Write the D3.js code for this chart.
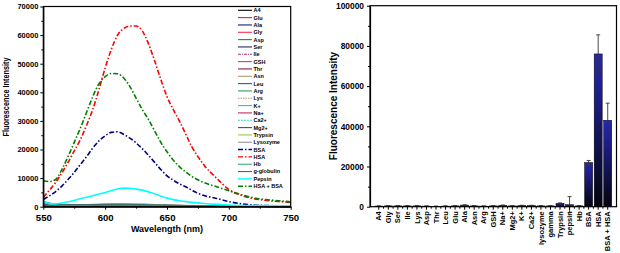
<!DOCTYPE html>
<html>
<head>
<meta charset="utf-8">
<script src="https://cdn.jsdelivr.net/npm/d3@7"></script>
<style>
  body { margin: 0; background: #fff; }
  svg { display: block; font-family: "Liberation Sans", Arial, sans-serif; font-weight: bold; }
</style>
</head>
<body>
<svg id="fig" width="620" height="253"></svg>
<script>
// ---- spectra (left panel) ----
const wl = [550,555,560,565,570,575,580,585,590,595,600,605,610,615,620,625,630,635,640,645,650,655,660,665,670,675,680,690,700,710,720,730,740,750];
const hsa = [3300,5800,8500,11800,15500,19500,23500,28500,34000,41000,48500,55000,60000,62300,63200,63200,61500,57000,51000,44500,38500,34000,30000,25500,21000,17500,14500,10000,6000,4000,2800,2200,1800,1500];
const bsa = [2500,3800,5300,7200,9500,12000,14800,17500,20500,23000,24800,26000,26200,25300,24000,22300,20300,18000,15500,13000,10800,9300,8000,7000,5800,4700,3900,2900,1800,1000,600,400,300,200];
const hsaBsa = [9000,8800,9500,13000,17500,22500,27500,33000,38500,43000,45500,46600,46500,45000,42000,38000,34000,30500,26500,22500,19200,16300,14000,12200,10600,9400,8400,7000,5600,4200,3100,2500,2100,1700];

const wlPepsin = [550,553,558,565,570,575,580,590,600,610,615,620,630,640,650,660,670,680,690,700,720,750];
const pepsin = [2000,1300,1000,1300,1700,2200,2800,3800,5000,6200,6500,6400,5800,4500,3000,2100,1500,1100,800,600,400,300];

// weak responders, sampled coarser
const wlLow = [550,560,575,600,615,630,650,675,700,750];
const lowA4 = [600,300,250,350,400,350,250,150,100,50];
const lowGlu = [800,400,350,500,550,480,350,200,130,60];
const lowAla = [700,350,300,450,500,450,320,180,120,60];
const lowGly = [900,450,400,550,600,520,380,220,140,70];
const lowAsp = [800,400,350,500,550,500,350,200,130,60];
const lowSer = [1000,500,400,550,600,520,380,220,150,70];
const lowIle = [900,450,400,600,650,560,400,230,150,70];
const lowGSH = [1000,500,450,700,800,700,480,260,160,80];
const lowThr = [700,350,300,500,550,480,340,200,120,60];
const lowAsn = [800,400,350,550,600,520,370,210,130,60];
const lowLeu = [900,450,380,550,600,520,380,220,140,70];
const lowArg = [1100,550,450,650,700,600,420,240,150,70];
const lowLys = [1000,550,500,800,950,820,560,300,180,80];
const lowK = [1200,600,450,600,650,560,400,230,150,70];
const lowNa = [1000,500,420,600,650,560,400,230,150,70];
const lowCa = [1300,650,480,620,680,580,410,240,150,70];
const lowMg = [1100,550,450,600,650,560,400,230,150,70];
const lowTrypsin = [1500,800,650,850,950,820,560,300,180,80];
const lowLysozyme = [1400,750,650,900,1000,880,600,320,190,80];
const lowHb = [1600,800,600,700,750,650,460,260,160,70];
const lowGlob = [1800,900,700,800,850,740,520,290,170,80];

const xTicksL = [550,600,650,700,750];
const yTicksL = [0,10000,20000,30000,40000,50000,60000,70000];

// ---- bars (right panel) ----
const barCats = ["A4","Gly","Ser","Ile","Lys","Asp","Thr","Leu","Glu","Ala","Asn","Arg","GSH","Na+","Mg2+","K+","Ca2+","lysozyme","gamma","Trypsin","pepsin","Hb","BSA","HSA","BSA + HSA"];
const barVals = [300,400,400,400,400,300,200,300,400,800,400,300,400,700,400,600,600,400,400,1700,1000,400,22000,76000,43000];
const barErr = [100,100,100,100,100,100,100,100,100,150,100,100,100,150,100,100,100,100,100,200,4000,100,1000,9500,8500];
const yTicksR = [0,20000,40000,60000,80000,100000];

const dashDot = "5,2,1.5,2";
// legend order and style of every spectrum
const series = [
  { name: "A4", x: wlLow, y: lowA4, color: "#000000" },
  { name: "Glu", x: wlLow, y: lowGlu, color: "#ff1a1a" },
  { name: "Ala", x: wlLow, y: lowAla, color: "#1a1a78" },
  { name: "Gly", x: wlLow, y: lowGly, color: "#ff2a4a" },
  { name: "Asp", x: wlLow, y: lowAsp, color: "#1e8a2e" },
  { name: "Ser", x: wlLow, y: lowSer, color: "#2a2a5e" },
  { name: "Ile", x: wlLow, y: lowIle, color: "#b0306e", dash: "3,1,1,1" },
  { name: "GSH", x: wlLow, y: lowGSH, color: "#a0508a" },
  { name: "Thr", x: wlLow, y: lowThr, color: "#8a1a4e" },
  { name: "Asn", x: wlLow, y: lowAsn, color: "#a89a68" },
  { name: "Leu", x: wlLow, y: lowLeu, color: "#2e6282" },
  { name: "Arg", x: wlLow, y: lowArg, color: "#2e9e58" },
  { name: "Lys", x: wlLow, y: lowLys, color: "#c09070", dash: "1.5,1" },
  { name: "K+", x: wlLow, y: lowK, color: "#28c8a0" },
  { name: "Na+", x: wlLow, y: lowNa, color: "#c8285e" },
  { name: "Ca2+", x: wlLow, y: lowCa, color: "#38d8c8", dash: "2,1" },
  { name: "Mg2+", x: wlLow, y: lowMg, color: "#50506e" },
  { name: "Trypsin", x: wlLow, y: lowTrypsin, color: "#98c850" },
  { name: "Lysozyme", x: wlLow, y: lowLysozyme, color: "#969696" },
  { name: "BSA", x: wl, y: bsa, color: "#000080", dash: dashDot, w: 1.6 },
  { name: "HSA", x: wl, y: hsa, color: "#ff0000", dash: dashDot, w: 1.6 },
  { name: "Hb", x: wlLow, y: lowHb, color: "#38b070" },
  { name: "g-globulin", x: wlLow, y: lowGlob, color: "#3e7070" },
  { name: "Pepsin", x: wlPepsin, y: pepsin, color: "#00ffff", w: 1.6 },
  { name: "HSA + BSA", x: wl, y: hsaBsa, color: "#008000", dash: dashDot, w: 1.6 }
];

const svg = d3.select("#fig");

// ================= left panel =================
const xL = d3.scaleLinear().domain([550, 750]).range([43.3, 290.7]);
const yL = d3.scaleLinear().domain([0, 70000]).range([206.7, 6.5]);

const left = svg.append("g");

// curves (weak ones first so the big ones sit on top)
const line = d3.line().curve(d3.curveMonotoneX);
const drawOrder = series.filter(s => !s.w).concat(series.filter(s => s.w));
left.append("g")
  .selectAll("path")
  .data(drawOrder)
  .join("path")
  .attr("fill", "none")
  .attr("stroke", d => d.color)
  .attr("stroke-width", d => d.w || 1.2)
  .attr("stroke-dasharray", d => d.dash || null)
  .attr("d", d => line(d.x.map((v, i) => [xL(v), yL(d.y[i])])));

// frame
left.append("rect")
  .attr("x", xL(550)).attr("y", yL(70000))
  .attr("width", xL(750) - xL(550)).attr("height", yL(0) - yL(70000))
  .attr("fill", "none").attr("stroke", "#000").attr("stroke-width", 1.2);

// x axis + minor ticks
left.append("g")
  .attr("transform", `translate(0,${yL(0)})`)
  .call(d3.axisBottom(xL).tickValues(xTicksL).tickSize(3).tickPadding(4).tickSizeOuter(0))
  .call(g => g.selectAll("text").attr("font-size", 9.6).attr("font-family", null))
  .call(g => g.select(".domain").attr("stroke-width", 1.2));
left.append("g")
  .attr("transform", `translate(0,${yL(0)})`)
  .call(d3.axisBottom(xL).tickValues([575,625,675,725]).tickSize(2).tickFormat("").tickSizeOuter(0))
  .call(g => g.select(".domain").remove());

// y axis + minor ticks
left.append("g")
  .attr("transform", `translate(${xL(550)},0)`)
  .call(d3.axisLeft(yL).tickValues(yTicksL).tickSize(3).tickPadding(2).tickSizeOuter(0).tickFormat(d3.format("d")))
  .call(g => g.selectAll("text").attr("font-size", 7.5).attr("font-family", null))
  .call(g => g.select(".domain").attr("stroke-width", 1.2));
left.append("g")
  .attr("transform", `translate(${xL(550)},0)`)
  .call(d3.axisLeft(yL).tickValues(d3.range(5000, 70000, 10000)).tickSize(2).tickFormat("").tickSizeOuter(0))
  .call(g => g.select(".domain").remove());

left.append("text")
  .attr("x", 167).attr("y", 231.5)
  .attr("text-anchor", "middle").attr("font-size", 9)
  .text("Wavelength (nm)");

left.append("text")
  .attr("transform", "translate(9,97) rotate(-90)")
  .attr("text-anchor", "middle").attr("font-size", 8.5)
  .attr("textLength", 79).attr("lengthAdjust", "spacingAndGlyphs")
  .text("Fluorescence Intensity");

// legend
const leg = left.append("g").selectAll("g")
  .data(series)
  .join("g")
  .attr("transform", (d, i) => `translate(238,${10.3 + i * 7.33})`);
leg.append("line")
  .attr("x1", 0).attr("x2", 14)
  .attr("stroke", d => d.color)
  .attr("stroke-width", d => d.w ? 1.4 : 1.1)
  .attr("stroke-dasharray", d => d.dash || null);
leg.append("text")
  .attr("x", 15.5).attr("dy", "0.35em")
  .attr("font-size", 5.5)
  .text(d => d.name);

// ================= right panel =================
const xR = d3.scaleBand().domain(barCats).range([370, 616.5]).paddingInner(0.16).paddingOuter(0.5);
const yR = d3.scaleLinear().domain([0, 100000]).range([206.7, 5.7]);

const right = svg.append("g");

const grad = svg.append("defs").append("linearGradient")
  .attr("id", "barGrad").attr("x1", 0).attr("y1", 0).attr("x2", 0).attr("y2", 1);
grad.append("stop").attr("offset", 0).attr("stop-color", "#2626b4");
grad.append("stop").attr("offset", 1).attr("stop-color", "#03030e");

const bars = barCats.map((c, i) => ({ cat: c, v: barVals[i], e: barErr[i] }));

right.append("g")
  .selectAll("rect")
  .data(bars)
  .join("rect")
  .attr("x", d => xR(d.cat))
  .attr("y", d => yR(d.v))
  .attr("width", xR.bandwidth())
  .attr("height", d => yR(0) - yR(d.v))
  .attr("fill", "url(#barGrad)")
  .attr("stroke", "#000").attr("stroke-width", 0.5);

// error bars
const eb = right.append("g").attr("stroke", "#333").attr("stroke-width", 0.9);
bars.forEach(d => {
  const cx = xR(d.cat) + xR.bandwidth() / 2;
  eb.append("line").attr("x1", cx).attr("x2", cx).attr("y1", yR(d.v - d.e)).attr("y2", yR(d.v + d.e));
  eb.append("line").attr("x1", cx - 2).attr("x2", cx + 2).attr("y1", yR(d.v + d.e)).attr("y2", yR(d.v + d.e));
  eb.append("line").attr("x1", cx - 2).attr("x2", cx + 2).attr("y1", yR(d.v - d.e)).attr("y2", yR(d.v - d.e));
});

// frame
right.append("rect")
  .attr("x", 370).attr("y", yR(100000))
  .attr("width", 246.5).attr("height", yR(0) - yR(100000))
  .attr("fill", "none").attr("stroke", "#000").attr("stroke-width", 1.2);

// x axis: ticks at bar centres, small ticks between
const centers = barCats.map(c => xR(c) + xR.bandwidth() / 2);
const xAx = right.append("g").attr("stroke", "#000");
xAx.selectAll(".maj").data(centers).join("line")
  .attr("x1", d => d).attr("x2", d => d).attr("y1", yR(0)).attr("y2", yR(0) + 3);
xAx.selectAll(".min").data(centers.slice(1)).join("line")
  .attr("x1", (d, i) => (d + centers[i]) / 2).attr("x2", (d, i) => (d + centers[i]) / 2)
  .attr("y1", yR(0)).attr("y2", yR(0) + 2);
right.append("g")
  .selectAll("text")
  .data(barCats)
  .join("text")
  .attr("transform", (d, i) => `translate(${centers[i]},${yR(0) + 4.5}) rotate(-90)`)
  .attr("text-anchor", "end").attr("dy", "0.35em")
  .attr("font-size", 7.5)
  .text(d => d);

// y axis + minor ticks
right.append("g")
  .attr("transform", "translate(370,0)")
  .call(d3.axisLeft(yR).tickValues(yTicksR).tickSize(3).tickPadding(3).tickSizeOuter(0).tickFormat(d3.format("d")))
  .call(g => g.selectAll("text").attr("font-size", 8.4).attr("font-family", null))
  .call(g => g.select(".domain").attr("stroke-width", 1.2));
right.append("g")
  .attr("transform", "translate(370,0)")
  .call(d3.axisLeft(yR).tickValues(d3.range(10000, 100000, 20000)).tickSize(2).tickFormat("").tickSizeOuter(0))
  .call(g => g.select(".domain").remove());

right.append("text")
  .attr("transform", "translate(337,106) rotate(-90)")
  .attr("text-anchor", "middle").attr("font-size", 10)
  .text("Fluorescence Intensity");
</script>
</body>
</html>
